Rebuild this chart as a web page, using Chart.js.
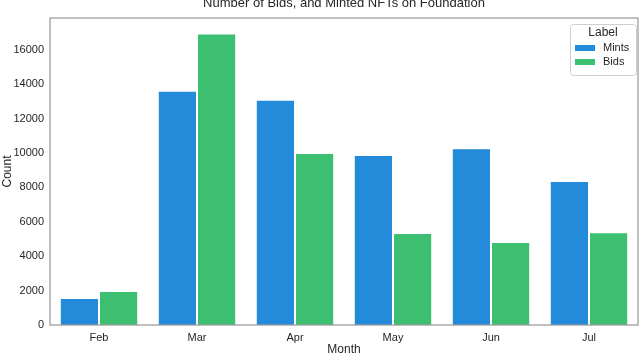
<!DOCTYPE html>
<html>
<head>
<meta charset="utf-8">
<script src="https://cdn.jsdelivr.net/npm/chart.js@4/dist/chart.umd.min.js"></script>
<style>
  html, body { margin: 0; padding: 0; background: #fff; }
  #wrap { width: 640px; height: 353px; }
</style>
</head>
<body>
<div id="wrap"><canvas id="bidsChart" width="640" height="353"></canvas></div>
<script>
// data
const months = ['Feb', 'Mar', 'Apr', 'May', 'Jun', 'Jul'];
const mints = [1570, 13620, 13090, 9880, 10270, 8370];
const bids = [1980, 16950, 10000, 5350, 4830, 5390];
const yTicks = [0, 2000, 4000, 6000, 8000, 10000, 12000, 14000, 16000];

const FONT = "'Liberation Sans', Arial, sans-serif";
const TXT = '#262626';
const SPINE = '#9a9a9a';

// title, frame and the legend box (seaborn look)
const decor = {
    id: 'decor',
    afterDraw(chart) {
        const ctx = chart.ctx;
        const a = chart.chartArea;
        ctx.save();
        ctx.strokeStyle = SPINE;
        ctx.lineWidth = 1.25;
        ctx.strokeRect(a.left, a.top, a.right - a.left, a.bottom - a.top);

        ctx.fillStyle = TXT;
        ctx.font = '13px ' + FONT;
        ctx.textAlign = 'center';
        ctx.textBaseline = 'middle';
        ctx.fillText('Number of Bids, and Minted NFTs on Foundation', (a.left + a.right) / 2, 3);

        // legend
        const bx = a.right - 68, by = a.top + 6, bw = 66, bh = 51;
        ctx.fillStyle = 'rgba(255,255,255,0.8)';
        ctx.strokeStyle = '#d0d0d0';
        ctx.lineWidth = 1;
        ctx.beginPath();
        ctx.roundRect(bx + 0.5, by + 0.5, bw, bh, 3);
        ctx.fill();
        ctx.stroke();
        ctx.fillStyle = TXT;
        ctx.font = '12px ' + FONT;
        ctx.fillText('Label', bx + bw / 2, by + 9);
        ctx.font = '11px ' + FONT;
        ctx.textAlign = 'left';
        chart.data.datasets.forEach((ds, i) => {
            const y = by + 24 + i * 14;
            ctx.fillStyle = ds.backgroundColor;
            ctx.fillRect(bx + 5, y - 3, 20, 6);
            ctx.fillStyle = TXT;
            ctx.fillText(ds.label, bx + 33, y);
        });
        ctx.restore();
    }
};

new Chart(document.getElementById('bidsChart'), {
    type: 'bar',
    data: {
        labels: months,
        datasets: [
            {
                label: 'Mints',
                data: mints,
                backgroundColor: '#238bd9',
                borderColor: 'rgba(255,255,255,0.6)',
                borderWidth: 1
            },
            {
                label: 'Bids',
                data: bids,
                backgroundColor: '#3dbf72',
                borderColor: 'rgba(255,255,255,0.6)',
                borderWidth: 1
            }
        ]
    },
    options: {
        responsive: false,
        animation: false,
        layout: { padding: { top: 18, right: 2, left: 0, bottom: 0 } },
        plugins: {
            legend: { display: false },
            tooltip: { enabled: false }
        },
        datasets: { bar: { categoryPercentage: 0.8, barPercentage: 1.0 } },
        scales: {
            x: {
                grid: { display: false, drawTicks: false },
                border: { display: false },
                ticks: { color: TXT, font: { family: FONT, size: 11 }, padding: 6 },
                title: { display: true, text: 'Month', color: TXT, font: { family: FONT, size: 12 }, padding: { top: 0, bottom: -4 } },
                afterFit(s) { s.height = 28; }
            },
            y: {
                min: 0,
                max: 17850,
                grid: { display: false, drawTicks: false },
                border: { display: false },
                ticks: {
                    color: TXT, font: { family: FONT, size: 11 }, padding: 6, stepSize: 2000,
                    callback: v => String(v)
                },
                afterBuildTicks(s) { s.ticks = yTicks.map(v => ({ value: v })); },
                title: { display: true, text: 'Count', color: TXT, font: { family: FONT, size: 12 }, padding: { top: 0, bottom: 2 } },
                afterFit(s) { s.width = 50; }
            }
        }
    },
    plugins: [decor]
});
</script>
</body>
</html>
